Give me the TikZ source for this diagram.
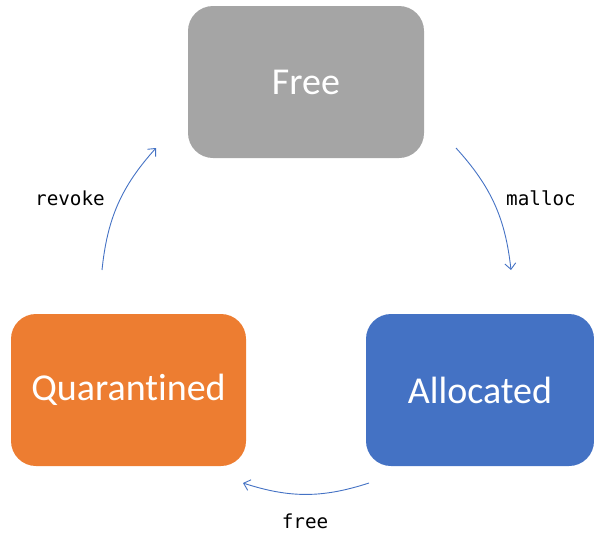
\documentclass[tikz,border=0pt]{standalone}
\usepackage{fontspec}
\setmainfont[Ligatures=NoCommon]{Carlito}
\newfontfamily\monofont{DejaVu Sans Mono}
\usetikzlibrary{arrows.meta}
\definecolor{boxgray}{HTML}{A5A5A5}
\definecolor{boxorange}{HTML}{ED7D31}
\definecolor{boxblue}{HTML}{4472C4}
\definecolor{arrowblue}{HTML}{4472C4}
\tikzset{
  statebox/.style={rounded corners=25pt, inner sep=0pt, text=white,
    font=\fontsize{38}{41}\selectfont},
  trans/.style={draw=arrowblue, line width=0.9pt, -{Straight Barb[length=6pt,width=11pt,line width=0.9pt]}},
  lbl/.style={font=\monofont\fontsize{19.3}{22}\selectfont, text=black, inner sep=0pt}
}
\begin{document}
\begin{tikzpicture}[x=1pt,y=-1pt]
\useasboundingbox (0,0) rectangle (594,533);
\node[statebox, fill=boxgray, minimum width=236pt, minimum height=152pt] (free) at (306,82) {Free};
\node[statebox, fill=boxorange, minimum width=235pt, minimum height=152pt] (quar) at (128.5,390) {Quarantined};
\node[statebox, fill=boxblue, minimum width=228pt, minimum height=152pt] (alloc) at (480,390) {Allocated};
\coordinate (r1) at (102,270);
\coordinate (r2) at (156,148);
\coordinate (m1) at (456,148);
\coordinate (m2) at (511,270);
\coordinate (f1) at (369,483);
\coordinate (f2) at (243,483);
\draw[trans] (r1) to[bend left=18] (r2);
\draw[trans] (m1) to[bend left=18] (m2);
\draw[trans] (f1) to[bend left=18] (f2);
\node[lbl] (lrevoke) at (70,198) {revoke};
\node[lbl] (lmalloc) at (541,198) {malloc};
\node[lbl] (lfree) at (305,521) {free};
\end{tikzpicture}
\end{document}
